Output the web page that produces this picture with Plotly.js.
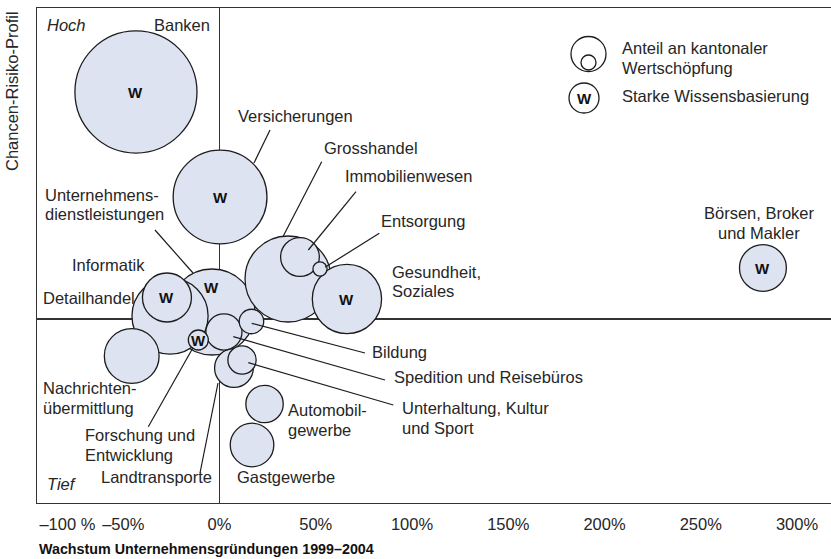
<!DOCTYPE html>
<html>
<head>
<meta charset="utf-8">
<script src="https://cdn.plot.ly/plotly-3.0.1.min.js"></script>
<style>html,body{margin:0;padding:0;background:#fff}#chart{width:831px;height:559px}</style>
</head>
<body>
<div id="chart"></div>
<script>
// ---------- data ----------
const categories = ['Banken', 'Versicherungen', 'Unternehmensdienstleistungen', 'Informatik', 'Detailhandel',
  'Nachrichtenübermittlung', 'Forschung und Entwicklung', 'Landtransporte', 'Spedition und Reisebüros', 'Bildung',
  'Unterhaltung, Kultur und Sport', 'Automobilgewerbe', 'Gastgewerbe', 'Grosshandel', 'Immobilienwesen',
  'Entsorgung', 'Gesundheit, Soziales', 'Börsen, Broker und Makler'];
// Wachstum Unternehmensgründungen 1999–2004 (%)
const wachstum = [-43.4, 0.3, -3.9, -27.3, -25.7, -45.6, -11.0, 7.5, 2.3, 16.6, 11.7, 23.4, 16.9, 35.6, 41.8, 52.2, 66.2, 282.3];
// Chancen-Risiko-Profil (index, 0 = Mitte)
const profil = [227, 122, 7, 21.5, 3, -37, -21, -49, -13, -2.5, -41, -85, -126, 40, 62, 50, 20, 51];
// Anteil an kantonaler Wertschöpfung (%)
const anteil = [14.9, 8.8, 7.4, 2.4, 5.8, 3.0, 0.4, 1.5, 1.3, 0.6, 0.8, 1.4, 1.9, 7.4, 1.5, 0.2, 4.8, 2.2];
// Starke Wissensbasierung
const wissen = [1, 1, 1, 1, 0, 0, 1, 0, 0, 0, 0, 0, 0, 0, 0, 0, 1, 1];
const tickVals = [-79, -50, 0, 50, 100, 150, 200, 250, 300];
const tickText = ['–100 %', '–50%', '0%', '50%', '100%', '150%', '200%', '250%', '300%'];

// ---------- layout helpers ----------
const W = 831, H = 559;
const M = {l: 37, r: 0, t: 8, b: 56};
const PXPERX = 1.925, X0PX = 219.5, Y0PX = 319;
const xRange = [(M.l - X0PX) / PXPERX, (W - M.r - X0PX) / PXPERX];
const yRange = [Y0PX - (H - M.b), Y0PX - M.t];
const X = px => (px - X0PX) / PXPERX;
const Y = py => Y0PX - py;
const pw = W - M.l - M.r, ph = H - M.t - M.b;
const PX = px => (px - M.l) / pw;
const PY = py => (H - M.b - py) / ph;

const FONT = 'Liberation Sans, Arial, Helvetica, sans-serif';
const FS = 16.5;
const TXT = '#262626';
const BUB = '#dee3f1';
const EDGE = '#1c1c1c';

// order: biggest first so small bubbles lie on top
const order = categories.map((c, i) => i).sort((a, b) => anteil[b] - anteil[a]);

const bubbles = {
  type: 'scatter', mode: 'markers', hoverinfo: 'text',
  x: order.map(i => wachstum[i]),
  y: order.map(i => profil[i]),
  text: order.map(i => categories[i]),
  marker: {
    size: order.map(i => anteil[i]),
    sizemode: 'area', sizeref: 0.002,
    color: BUB, opacity: 1,
    line: {color: EDGE, width: 1.3}
  },
  showlegend: false
};

const annotations = [];
function label(lines, px, py, anchor, opts) {
  opts = opts || {};
  const lh = opts.lh || 20;
  lines.forEach((t, k) => {
    annotations.push({
      xref: 'x', yref: 'y', x: X(px), y: Y(py + k * lh),
      text: opts.italic ? '<i>' + t + '</i>' : t,
      showarrow: false, xanchor: anchor, yanchor: 'middle',
      font: {family: FONT, size: FS, color: TXT}
    });
  });
}
// W marks on knowledge-based branches
const wShift = {'Unternehmensdienstleistungen': 25};
categories.forEach((c, i) => {
  if (!wissen[i]) return;
  annotations.push({
    xref: 'x', yref: 'y', x: wachstum[i], y: profil[i], yshift: wShift[c] || 0,
    text: '<b>W</b>', showarrow: false, xanchor: 'center', yanchor: 'middle',
    font: {family: FONT, size: 15, color: '#111'}
  });
});

label(['Hoch'], 45, 25, 'left', {italic: true});
label(['Tief'], 45, 484, 'left', {italic: true});
label(['Banken'], 212, 25, 'right');
label(['Versicherungen'], 236, 116, 'left');
label(['Unternehmens-', 'dienstleistungen'], 43, 195, 'left', {lh: 19});
label(['Informatik'], 70, 265, 'left');
label(['Detailhandel'], 41, 298, 'left');
label(['Nachrichten-', 'übermittlung'], 41, 388, 'left');
label(['Forschung und', 'Entwicklung'], 83, 435, 'left');
label(['Landtransporte'], 99, 477, 'left');
label(['Gastgewerbe'], 235, 477, 'left');
label(['Automobil-', 'gewerbe'], 286, 410, 'left');
label(['Unterhaltung, Kultur', 'und Sport'], 400, 408, 'left');
label(['Spedition und Reisebüros'], 392, 377, 'left');
label(['Bildung'], 370, 352, 'left');
label(['Gesundheit,', 'Soziales'], 390, 272, 'left', {lh: 19});
label(['Entsorgung'], 379, 221, 'left');
label(['Immobilienwesen'], 343, 176, 'left');
label(['Grosshandel'], 322, 148, 'left');
label(['Börsen, Broker', 'und Makler'], 759, 213, 'center');
label(['Anteil an kantonaler', 'Wertschöpfung'], 620, 48, 'left');
label(['Starke Wissensbasierung'], 620, 96, 'left');
// legend W
annotations.push({
  xref: 'x', yref: 'y', x: X(584), y: Y(98), text: '<b>W</b>', showarrow: false,
  xanchor: 'center', yanchor: 'middle', font: {family: FONT, size: 15, color: '#111'}
});
// y title
annotations.push({
  xref: 'paper', yref: 'paper', x: PX(12), y: PY(91), text: 'Chancen-Risiko-Profil',
  textangle: -90, showarrow: false, xanchor: 'center', yanchor: 'middle',
  font: {family: FONT, size: FS, color: TXT}
});
// x title
annotations.push({
  xref: 'paper', yref: 'paper', x: PX(37), y: PY(549), text: '<b>Wachstum Unternehmensgründungen 1999–2004</b>',
  showarrow: false, xanchor: 'left', yanchor: 'middle',
  font: {family: FONT, size: 14.3, color: '#111'}
});

// leader lines (pixel positions of label -> bubble)
const leaders = [
  [270, 130, 254, 163], [155, 230, 193, 273], [321.7, 161.7, 283.3, 236], [356, 191.7, 308.3, 250],
  [379.3, 233.3, 325, 267.3], [365, 353, 251.7, 323.3], [385, 380, 233.3, 336.7], [393.3, 405, 248.3, 362.7],
  [148.3, 426.7, 192.7, 348.3], [200, 473, 218, 383]
];
const shapes = leaders.map(l => ({
  type: 'line', xref: 'x', yref: 'y', x0: X(l[0]), y0: Y(l[1]), x1: X(l[2]), y1: Y(l[3]),
  line: {color: EDGE, width: 1.2}, layer: 'above'
}));
// legend circles (pixel-sized)
function circ(cx, cy, d) {
  return {
    type: 'circle', xref: 'x', yref: 'y', xsizemode: 'pixel', ysizemode: 'pixel',
    xanchor: X(cx), yanchor: Y(cy), x0: -d / 2, x1: d / 2, y0: -d / 2, y1: d / 2,
    fillcolor: '#fff', line: {color: EDGE, width: 1.3}, layer: 'above'
  };
}
shapes.push(circ(588.5, 54, 35));
shapes.push(circ(588.5, 62.5, 15));
shapes.push(circ(584, 98, 30));

const layout = {
  width: W, height: H, margin: M,
  paper_bgcolor: '#fff', plot_bgcolor: '#fff',
  font: {family: FONT, size: FS, color: TXT},
  showlegend: false,
  xaxis: {
    range: xRange, showgrid: false, zeroline: true, zerolinecolor: '#333', zerolinewidth: 1.5,
    showline: true, mirror: true, linecolor: '#333', linewidth: 1.3,
    tickmode: 'array', tickvals: tickVals, ticktext: tickText, ticks: '',
    tickfont: {family: FONT, size: FS, color: TXT}, ticklabelstandoff: 6, fixedrange: true
  },
  yaxis: {
    range: yRange, showgrid: false, zeroline: true, zerolinecolor: '#333', zerolinewidth: 1.5,
    showline: true, mirror: false, linecolor: '#333', linewidth: 1.3,
    showticklabels: false, ticks: '', fixedrange: true
  },
  annotations: annotations,
  shapes: shapes
};

Plotly.newPlot('chart', [bubbles], layout, {displayModeBar: false, staticPlot: true});
</script>
</body>
</html>
